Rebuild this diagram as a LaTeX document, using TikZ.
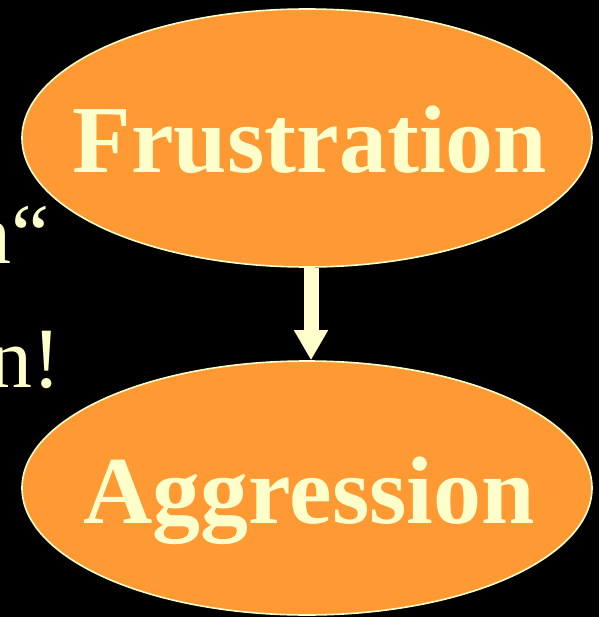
\documentclass[tikz,border=0pt]{standalone}
\usepackage{fontspec}
\setmainfont{Liberation Serif}
\usetikzlibrary{shapes.geometric,arrows.meta}
\definecolor{orangefill}{HTML}{FF9933}
\definecolor{paleyellow}{HTML}{FFFFCC}
\tikzset{
  bubble/.style={ellipse, draw=paleyellow, line width=1.6pt, fill=orangefill,
    minimum width=570pt, minimum height=258pt, inner sep=0pt},
  bubbletext/.style={text=paleyellow, inner sep=0pt, font=\fontsize{96}{100}\selectfont\bfseries,
    text height=64pt, text depth=0pt},
  sidetext/.style={text=paleyellow, inner sep=0pt, anchor=base west, font=\fontsize{86}{90}\selectfont},
  bigarrow/.style={draw=paleyellow, line width=15pt, -{Triangle[width=32pt,length=30pt]}}
}
\begin{document}
\begin{tikzpicture}[x=1pt,y=-1pt]
  \fill[black] (0,0) rectangle (599,617);
  \useasboundingbox (0,0) rectangle (599,617);
  \clip (0,0) rectangle (599,617);
  \node[sidetext] (l1) at (-32,263) {n“};
  \node[sidetext] (l2) at (-11,387) {n!};
  \node[bubble] (top) at (307,138) {};
  \node[bubble, minimum height=254pt] (bot) at (307,488) {};
  \node[bubbletext] (ttop) at (310,141) {Frustration};
  \node[bubbletext] (tbot) at (309,491) {Aggression};
  \draw[bigarrow] ([xshift=4pt]top.south) -- ([xshift=4pt]bot.north);
\end{tikzpicture}
\end{document}
